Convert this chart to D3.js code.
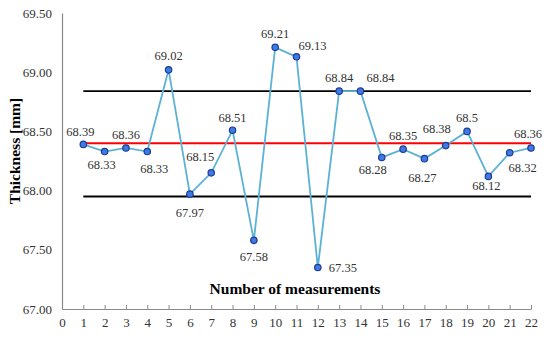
<!DOCTYPE html>
<html>
<head>
<meta charset="utf-8">
<script src="https://cdn.jsdelivr.net/npm/d3@7"></script>
<style>
  body { margin: 0; background: #fff; }
  text { font-family: "Liberation Serif", "Times New Roman", serif; }
</style>
</head>
<body>
<svg id="chart" width="550" height="340"></svg>
<script>
// measurement number and measured thickness
const measurements = d3.range(1, 23);
const thickness = [68.39, 68.33, 68.36, 68.33, 69.02, 67.97, 68.15, 68.51, 67.58, 69.21, 69.13,
                   67.35, 68.84, 68.84, 68.28, 68.35, 68.27, 68.38, 68.5, 68.12, 68.32, 68.36];
const labelText = ["68.39", "68.33", "68.36", "68.33", "69.02", "67.97", "68.15", "68.51", "67.58", "69.21", "69.13",
                   "67.35", "68.84", "68.84", "68.28", "68.35", "68.27", "68.38", "68.5", "68.12", "68.32", "68.36"];
// control lines: upper limit, mean, lower limit
const ucl = 68.84;
const meanLine = 68.40;
const lcl = 67.95;
const yTicks = [67.0, 67.5, 68.0, 68.5, 69.0, 69.5];
const xTicks = d3.range(0, 23);

// where each data label sits relative to its point (px)
const labelPos = [
  [-3, -13], [-3, 13], [0, -13], [7, 17], [0, -14], [0, 18], [-11, -16], [0, -13], [0, 16], [0, -14], [16, -11],
  [25, 0], [0, -14], [20, -14], [-9, 12], [0, -14], [-2, 19], [-9, -17], [0, -14], [-2, 9], [13, 15], [-3, -14]
];

const svg = d3.select("#chart");
const x = d3.scaleLinear().domain([0, 22]).range([62, 531]);
const y = d3.scaleLinear().domain([67, 69.5]).range([309, 13]);

// y axis: line only, labels on the left
const yAxis = svg.append("g")
    .attr("transform", `translate(${x(0)},0)`)
    .call(d3.axisLeft(y).tickValues(yTicks).tickFormat(d3.format(".2f")).tickSize(0).tickPadding(10));
yAxis.select(".domain").attr("stroke", "#8a8a8a").attr("stroke-width", 1.2);
yAxis.selectAll("text").attr("font-size", 13).attr("fill", "#333")
    .style("font-family", "'Liberation Serif', serif");

// x axis with small ticks pointing up
const xAxis = svg.append("g")
    .attr("transform", `translate(0,${y(67)})`)
    .call(d3.axisBottom(x).tickValues(xTicks).tickSizeInner(-4).tickSizeOuter(0).tickPadding(9));
xAxis.select(".domain").attr("stroke", "#8a8a8a").attr("stroke-width", 1.2);
xAxis.selectAll(".tick line").attr("stroke", "#8a8a8a");
xAxis.selectAll("text").attr("font-size", 13).attr("fill", "#333")
    .style("font-family", "'Liberation Serif', serif");

// control lines
[[ucl, "#000"], [lcl, "#000"], [meanLine, "#ff0000"]].forEach(([v, c]) => {
  svg.append("line")
      .attr("x1", x(1)).attr("x2", x(22))
      .attr("y1", y(v)).attr("y2", y(v))
      .attr("stroke", c).attr("stroke-width", 1.8);
});

// the measurement line
const line = d3.line().x((d, i) => x(measurements[i])).y(d => y(d));
svg.append("path")
    .datum(thickness)
    .attr("d", line)
    .attr("fill", "none")
    .attr("stroke", "#5cb2d4")
    .attr("stroke-width", 1.8);

svg.selectAll("circle.pt")
    .data(thickness)
    .enter().append("circle")
    .attr("class", "pt")
    .attr("cx", (d, i) => x(measurements[i]))
    .attr("cy", d => y(d))
    .attr("r", 3.2)
    .attr("fill", "#3f7be0")
    .attr("stroke", "#1c3a9a")
    .attr("stroke-width", 1.2);

svg.selectAll("text.lbl")
    .data(thickness)
    .enter().append("text")
    .attr("class", "lbl")
    .attr("x", (d, i) => x(measurements[i]) + labelPos[i][0])
    .attr("y", (d, i) => y(d) + labelPos[i][1])
    .attr("dy", "0.35em")
    .attr("text-anchor", "middle")
    .attr("font-size", 12.5)
    .attr("fill", "#333")
    .text((d, i) => labelText[i]);

// axis titles
svg.append("text")
    .attr("x", 295).attr("y", 294)
    .attr("text-anchor", "middle")
    .attr("font-size", 15.5).attr("font-weight", "bold")
    .text("Number of measurements");

svg.append("text")
    .attr("transform", "translate(20,151) rotate(-90)")
    .attr("text-anchor", "middle")
    .attr("font-size", 15.5).attr("font-weight", "bold")
    .text("Thickness [mm]");
</script>
</body>
</html>
